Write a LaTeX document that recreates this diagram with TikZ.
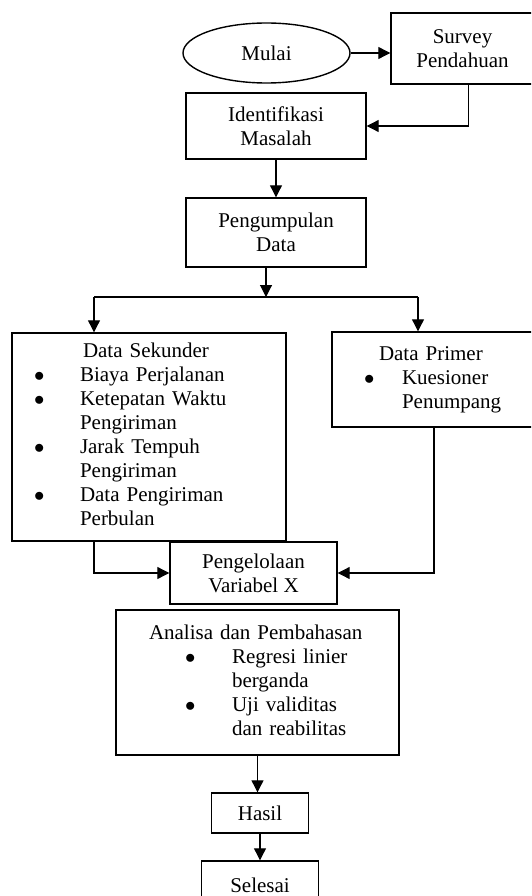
\documentclass[tikz,border=0pt]{standalone}
\usepackage{fontspec}
\setmainfont{Liberation Serif}
\usetikzlibrary{shapes.geometric,arrows.meta}
\begin{document}
\begin{tikzpicture}[x=1pt,y=-1pt,every node/.append style={font=\fontsize{21}{24}\selectfont}]
 \tikzstyle{b} = [rectangle, draw, line width=1.4pt, inner sep=0pt, align=center]
 \tikzstyle{l} = [rectangle, draw, line width=1.4pt, inner ysep=0pt, align=left]
 \tikzstyle{a} = [line width=1.1pt, -{Triangle[length=12pt,width=12pt]}]
 \tikzstyle{e} = [line width=1.1pt]
 \useasboundingbox (0,0) rectangle (531,896);
 \clip (0,0) rectangle (531,896);
 %%

 \node[ellipse, draw, line width=1.4pt, inner sep=0pt, minimum width=167pt, minimum height=60pt] (mulai) at (266.5,53) {Mulai};
 \node[b, minimum width=143pt, minimum height=71pt] (survey) at (462.5,48.5) {Survey\\Pendahuan};
 \node[b, minimum width=180pt, minimum height=66pt] (identifikasi) at (276,126) {Identifikasi\\Masalah};
 \node[b, minimum width=180pt, minimum height=69pt] (pengumpulan) at (276,232.5) {Pengumpulan\\Data};

 \node[l, minimum height=208pt, inner xsep=22pt, text width=230pt] (sekunder) at (149,437) {%
  \begin{tabular}{@{}p{46pt}@{}l@{}}
   \multicolumn{2}{@{}l@{}}{\hspace*{49pt}Data Sekunder}\\
   $\bullet$ & Biaya Perjalanan\\
   $\bullet$ & Ketepatan Waktu\\
   & Pengiriman\\
   $\bullet$ & Jarak Tempuh\\
   & Pengiriman\\
   $\bullet$ & Data Pengiriman\\
   & Perbulan
  \end{tabular}};
 \node[l, minimum height=95pt, inner xsep=32pt, text width=146pt] (primer) at (437,379.5) {%
  \begin{tabular}{@{}p{38pt}@{}l@{}}
   \multicolumn{2}{@{}l@{}}{\hspace*{15pt}Data Primer}\\
   $\bullet$ & Kuesioner\\
   & Penumpang
  \end{tabular}};

 \node[b, minimum width=167pt, minimum height=62pt] (pengelolaan) at (253.5,573) {Pengelolaan\\Variabel X};
 \node[l, minimum height=145pt, inner xsep=33pt, text width=217pt] (analisa) at (257.5,682.5) {%
  \begin{tabular}{@{}p{83pt}@{}l@{}}
   \multicolumn{2}{@{}l@{}}{Analisa dan Pembahasan}\\
   \hspace*{36pt}$\bullet$ & Regresi linier\\
   & berganda\\
   \hspace*{36pt}$\bullet$ & Uji validitas\\
   & dan reabilitas
  \end{tabular}};
 \node[b, minimum width=97pt, minimum height=40pt] (hasil) at (260,813) {Hasil};
 \node[b, minimum width=117pt, minimum height=48pt] (selesai) at (260,885) {Selesai};

 \coordinate (split) at (266,297);
 \coordinate (kiri) at (94,297);
 \coordinate (kanan) at (418,297);

 \draw[a] (mulai.east) -- (mulai.east -| survey.west);
 \draw[a] ([xshift=6pt]survey.south) |- (identifikasi.east);
 \draw[a] (identifikasi) -- (pengumpulan);
 \draw[a] (pengumpulan.south -| split) -- (split);
 \draw[e] (kiri) -- (kanan);
 \draw[a] (kiri) -- (kiri |- sekunder.north);
 \draw[a] (kanan) -- (kanan |- primer.north);
 \draw[a] (sekunder.south -| kiri) |- (pengelolaan.west);
 \draw[a] ([xshift=-3pt]primer.south) |- (pengelolaan.east);
 \draw[a] (analisa.south) -- (analisa.south |- hasil.north);
 \draw[a] (hasil) -- (selesai);

\end{tikzpicture}
\end{document}
